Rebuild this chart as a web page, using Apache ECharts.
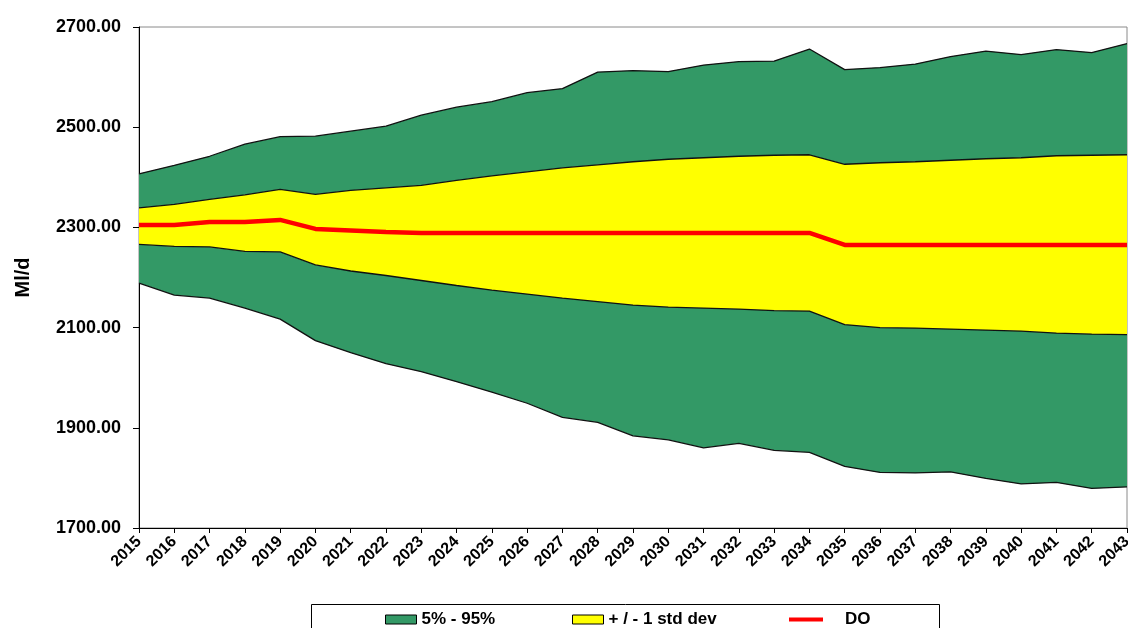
<!DOCTYPE html>
<html>
<head>
<meta charset="utf-8">
<script src="https://cdn.jsdelivr.net/npm/echarts@6/dist/echarts.min.js"></script>
<style>
html,body{margin:0;padding:0;background:#fff;}
#chart{width:1128px;height:628px;}
</style>
</head>
<body>
<div id="chart"></div>
<script>
const years = ['2015','2016','2017','2018','2019','2020','2021','2022','2023','2024','2025','2026','2027','2028','2029','2030','2031','2032','2033','2034','2035','2036','2037','2038','2039','2040','2041','2042','2043'];
const p95 = [2407,2424,2442,2466,2481,2482,2492,2502,2524,2540,2551,2569,2577,2610,2613,2611,2624,2631,2632,2656,2615,2619,2626,2641,2652,2645,2655,2649,2667];
const plus1sd = [2339,2346,2356,2365,2376,2366,2374,2379,2384,2394,2403,2411,2419,2425,2431,2436,2439,2442,2444,2445,2426,2429,2431,2434,2437,2439,2443,2444,2445];
const doLine = [2305,2305,2311,2311,2315,2297,2294,2291,2289,2289,2289,2289,2289,2289,2289,2289,2289,2289,2289,2289,2265,2265,2265,2265,2265,2265,2265,2265,2265];
const minus1sd = [2266,2262,2261,2252,2251,2225,2213,2204,2194,2184,2175,2167,2159,2152,2145,2141,2139,2137,2134,2133,2106,2100,2099,2097,2095,2093,2089,2087,2086];
const p5 = [2189,2165,2159,2139,2117,2074,2050,2028,2012,1992,1971,1949,1921,1911,1884,1876,1860,1869,1855,1851,1823,1811,1810,1812,1799,1788,1791,1779,1782];
const yTicks = {min:1700, max:2700, step:200};
const names = {band:'5% - 95%', sd:'+ / - 1 std dev', dobl:'DO'};

const GREEN = '#339966', YELLOW = '#ffff00', RED = '#ff0000', EDGE = '#111';
const FONT = '"Liberation Sans", Arial, sans-serif';

const lowBand = minus1sd.map((v,i)=>v - p5[i]);
const midBand = plus1sd.map((v,i)=>v - minus1sd[i]);
const highBand = p95.map((v,i)=>v - plus1sd[i]);

function bandSeries(name, data, color){
  return {
    name, type:'line', stack:'bands', data, symbol:'none', silent:true,
    lineStyle:{color:EDGE, width:1.3},
    areaStyle: color ? {color, opacity:1} : {opacity:0},
    itemStyle:{color: color || 'transparent'},
    emphasis:{disabled:true}
  };
}

const legendText = {color:'#000', fontFamily:FONT, fontWeight:'bold', fontSize:17};

const chart = echarts.init(document.getElementById('chart'), null, {renderer:'canvas'});
chart.setOption({
  animation:false,
  backgroundColor:'#fff',
  grid:{left:139, top:27, right:1, bottom:100, containLabel:false, outerBoundsMode:'none',
        show:true, borderColor:'#8a8a8a', borderWidth:1, backgroundColor:'transparent'},
  xAxis:{
    type:'category', data:years, boundaryGap:false,
    axisLine:{lineStyle:{color:'#000', width:1}},
    axisTick:{show:true, length:5, inside:false, lineStyle:{color:'#000'}},
    axisLabel:{rotate:45, interval:0, margin:11, color:'#000', fontFamily:FONT, fontWeight:'bold', fontSize:16, hideOverlap:false},
    splitLine:{show:false}
  },
  yAxis:{
    type:'value', min:yTicks.min, max:yTicks.max, interval:yTicks.step,
    name:'Ml/d', nameLocation:'middle', nameGap:106,
    nameTextStyle:{color:'#000', fontFamily:FONT, fontWeight:'bold', fontSize:20},
    axisLine:{show:true, lineStyle:{color:'#000', width:1}},
    axisTick:{show:true, length:6, lineStyle:{color:'#000'}},
    axisLabel:{margin:18, color:'#000', fontFamily:FONT, fontWeight:'bold', fontSize:18, formatter:v=>v.toFixed(2)},
    splitLine:{show:false}
  },
  legend:[
    {left:385, top:611, padding:0, itemWidth:31, itemHeight:9, selectedMode:false, textStyle:legendText,
     data:[{name:names.band, icon:'rect', itemStyle:{color:GREEN, borderColor:'#000', borderWidth:1}}]},
    {left:572, top:611, padding:0, itemWidth:31, itemHeight:9, selectedMode:false, textStyle:legendText,
     data:[{name:names.sd, icon:'rect', itemStyle:{color:YELLOW, borderColor:'#000', borderWidth:1}}]},
    {left:789, top:611, padding:0, itemWidth:34, itemHeight:4, selectedMode:false,
     textStyle:Object.assign({}, legendText, {padding:[0,0,0,17]}),
     data:[{name:names.dobl, icon:'rect', itemStyle:{color:RED, borderWidth:0}}]}
  ],
  graphic:[{type:'rect', shape:{x:311.5, y:604.5, width:628, height:40}, style:{fill:'transparent', stroke:'#000', lineWidth:1}, silent:true, z:-1}],
  series:[
    bandSeries('base', p5, null),
    bandSeries(names.band, lowBand, GREEN),
    bandSeries(names.sd, midBand, YELLOW),
    bandSeries(names.band, highBand, GREEN),
    {name:names.dobl, type:'line', data:doLine, symbol:'none', silent:true, z:5,
     lineStyle:{color:RED, width:4.5}, itemStyle:{color:RED}}
  ]
});
</script>
</body>
</html>
